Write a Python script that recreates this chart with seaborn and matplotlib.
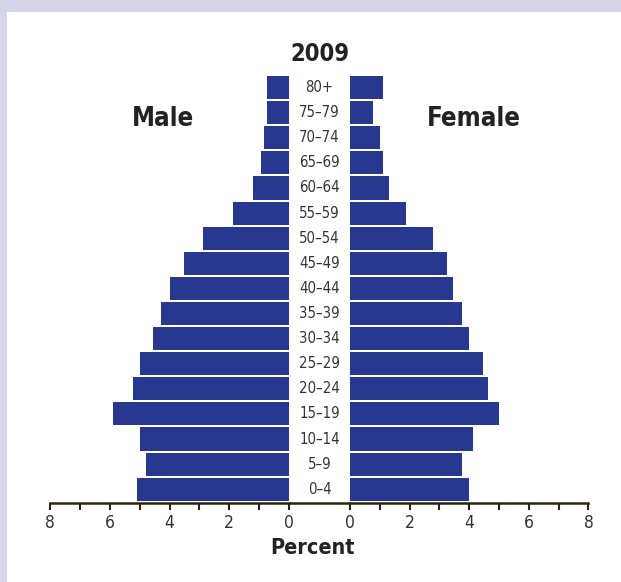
import matplotlib
matplotlib.use("Agg")
import matplotlib.pyplot as plt
import matplotlib.transforms as mtransforms
from matplotlib.lines import Line2D
from matplotlib.patches import Rectangle
import pandas as pd
import seaborn as sns

age_groups = ["80+", "75–79", "70–74", "65–69", "60–64", "55–59", "50–54",
              "45–49", "40–44", "35–39", "30–34", "25–29", "20–24", "15–19",
              "10–14", "5–9", "0–4"]
male_pct = [0.73, 0.73, 0.83, 0.93, 1.19, 1.86, 2.87, 3.53, 3.97, 4.30,
            4.54, 5.00, 5.21, 5.88, 5.00, 4.77, 5.10]
female_pct = [1.11, 0.77, 1.00, 1.11, 1.31, 1.88, 2.79, 3.26, 3.46, 3.76,
              3.99, 4.46, 4.63, 5.00, 4.13, 3.76, 3.99]
x_ticks = [0, 1, 2, 3, 4, 5, 6, 7, 8]
x_tick_labels = ["0", "", "2", "", "4", "", "6", "", "8"]

df = pd.DataFrame({"age": age_groups, "male": male_pct, "female": female_pct})

bar_color = "#283891"
axis_color = "#2b2213"
frame_color = "#d4d5e9"

sns.set_theme(style="white")
plt.rcParams["font.family"] = ["DejaVu Sans"]
plt.rcParams["font.stretch"] = "condensed"

fig = plt.figure(figsize=(6.21, 5.82), dpi=100)
fig.patch.set_facecolor(frame_color)
fig.add_artist(Rectangle((7 / 621, 0), 1, 1 - 12 / 582, transform=fig.transFigure,
                         facecolor="white", edgecolor="none", zorder=-1))

bottom, height = 0.1357, 0.7354
axL = fig.add_axes([50 / 621, bottom, 239 / 621, height])
axR = fig.add_axes([350 / 621, bottom, 238.4 / 621, height])

sns.barplot(data=df, y="age", x="male", order=age_groups, color=bar_color,
            saturation=1, width=0.92, linewidth=0, ax=axL)
sns.barplot(data=df, y="age", x="female", order=age_groups, color=bar_color,
            saturation=1, width=0.92, linewidth=0, ax=axR)

axL.set_xlim(8, 0)
axR.set_xlim(0, 8)
for ax in (axL, axR):
    ax.set_facecolor("none")
    ax.set_ylim(16.55, -0.5)
    ax.set_xticks(x_ticks)
    ax.set_xticklabels(x_tick_labels)
    ax.set_yticks([])
    ax.set_xlabel("")
    ax.set_ylabel("")
    for s in ("left", "right", "top"):
        ax.spines[s].set_visible(False)
    ax.spines["bottom"].set_color(axis_color)
    ax.spines["bottom"].set_linewidth(1.8)
    ax.tick_params(axis="x", direction="out", length=5, width=1.5,
                   color=axis_color, labelsize=12.5, labelcolor="#333333",
                   pad=3, bottom=True)

# baseline continues through the gap between the two halves
fig.add_artist(Line2D([289 / 621, 350 / 621], [bottom, bottom], transform=fig.transFigure,
                      color=axis_color, linewidth=1.8, solid_capstyle="butt"))

# age labels in the middle
trans = mtransforms.blended_transform_factory(fig.transFigure, axL.transData)
for i, lab in enumerate(age_groups):
    axL.text(319.5 / 621, i, lab, transform=trans, ha="center", va="center",
             fontsize=10.7, color="#333333", clip_on=False)

fig.text(320 / 621, 1 - 54 / 582, "2009", ha="center", va="center",
         fontsize=17, fontweight="bold", color="#222222")
fig.text(163 / 621, 1 - 119 / 582, "Male", ha="center", va="center",
         fontsize=18.5, fontweight="bold", color="#222222")
fig.text(474 / 621, 1 - 119 / 582, "Female", ha="center", va="center",
         fontsize=18.5, fontweight="bold", color="#222222")
fig.text(312 / 621, 1 - 548 / 582, "Percent", ha="center", va="center",
         fontsize=15.5, fontweight="bold", color="#222222")

fig.savefig("out.png", dpi=100, facecolor=fig.get_facecolor())
